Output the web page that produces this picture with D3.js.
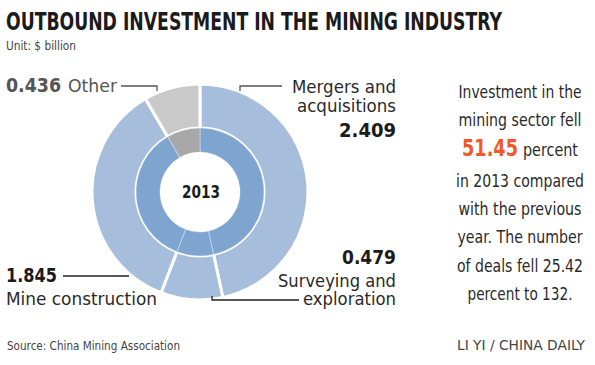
<!DOCTYPE html>
<html><head><meta charset="utf-8">
<script src="https://cdn.jsdelivr.net/npm/d3@7"></script>
<style>
html,body{margin:0;padding:0;background:#fff;}
svg{display:block;}
text{font-family:"Liberation Sans Narrow","DejaVu Sans Condensed","Roboto Condensed","Liberation Sans",sans-serif;}
</style></head>
<body>
<svg id="c" width="595" height="365"></svg>
<script>
const categories = ["Mergers and acquisitions", "Surveying and exploration", "Mine construction", "Other"];
const values = [2.409, 0.479, 1.845, 0.436];
const valueLabels = ["2.409", "0.479", "1.845", "0.436"];
const year = "2013";
const title = "OUTBOUND INVESTMENT IN THE MINING INDUSTRY";
const subtitle = "Unit: $ billion";
const source = "Source: China Mining Association";
const credit = "LI YI / CHINA DAILY";
const noteLines = ["Investment in the", "mining sector fell", "", "in 2013 compared", "with the previous", "year. The number", "of deals fell 25.42", "percent to 132."];
const notePct = "51.45";

const svg = d3.select("#c");
const outerColors = ["#a6bedc", "#a6bedc", "#a6bedc", "#c9c9c9"];
const innerColors = ["#7ea5cf", "#7ea5cf", "#7ea5cf", "#a8a8a8"];

function txt(x, y, s, size, weight, anchor, color, width) {
  const t = svg.append("text").attr("x", x).attr("y", y).text(s)
    .attr("font-size", size).attr("font-weight", weight)
    .attr("text-anchor", anchor).attr("fill", color);
  if (width) t.attr("textLength", width).attr("lengthAdjust", "spacingAndGlyphs");
  return t;
}

// Title
txt(6, 30, title, 24, "bold", "start", "#1b1b1b", 496);
txt(6, 50, subtitle, 13, "normal", "start", "#444", 70);

// Donut
const cx = 200, cy = 192;
const pie = d3.pie().sort(null).value(d => d)(values);
const arcOuter = d3.arc().innerRadius(64).outerRadius(108);
const arcInner = d3.arc().innerRadius(40).outerRadius(64);
const g = svg.append("g").attr("transform", `translate(${cx},${cy})`);
g.selectAll("path.o").data(pie).join("path").attr("class", "o")
  .attr("d", arcOuter).attr("fill", (d, i) => outerColors[i])
  .attr("stroke", "#fff").attr("stroke-width", 3);
g.selectAll("path.i").data(pie).join("path").attr("class", "i")
  .attr("d", arcInner).attr("fill", (d, i) => innerColors[i])
  .attr("stroke", "#fff").attr("stroke-opacity", 0.35).attr("stroke-width", 1);
txt(cx + 1, 198, year, 17, "bold", "middle", "#1b1b1b", 38);

// Leader lines
svg.append("path").attr("d", "M121,86H157V91").attr("fill", "none").attr("stroke", "#555").attr("stroke-width", 1.3);
svg.append("path").attr("d", "M240,91V86H282").attr("fill", "none").attr("stroke", "#555").attr("stroke-width", 1.3);
svg.append("path").attr("d", "M63,276H129").attr("fill", "none").attr("stroke", "#222").attr("stroke-width", 1.6);
svg.append("path").attr("d", "M212,296V300H299").attr("fill", "none").attr("stroke", "#222").attr("stroke-width", 1.3);

// Labels
txt(6, 92, valueLabels[3], 19, "bold", "start", "#555", 55);
txt(68, 92, "Other", 18, "normal", "start", "#555", 49);

txt(396, 93, "Mergers and", 17, "normal", "end", "#2a2a2a", 104);
txt(396, 112, "acquisitions", 17, "normal", "end", "#2a2a2a", 99);
txt(396, 137, valueLabels[0], 19, "bold", "end", "#1b1b1b", 57);

txt(396, 264, valueLabels[1], 19, "bold", "end", "#1b1b1b", 54);
txt(396, 287, "Surveying and", 17, "normal", "end", "#2a2a2a", 118);
txt(396, 305, "exploration", 17, "normal", "end", "#2a2a2a", 93);

txt(6, 282, valueLabels[2], 19, "bold", "start", "#1b1b1b", 51);
txt(6, 305, "Mine construction", 18, "normal", "start", "#2a2a2a", 151);

// Note paragraph
const noteY = [98, 126, 156, 187, 215, 243, 272, 300];
const noteW = [123, 123, 0, 128, 123, 125, 126, 105];
noteLines.forEach((s, i) => {
  if (s) txt(520, noteY[i], s, 17, "normal", "middle", "#2a2a2a", noteW[i]);
});
txt(462, 156, notePct, 23, "bold", "start", "#f05a28", 56);
txt(523, 156, "percent", 17, "normal", "start", "#2a2a2a", 55);

// Footer
txt(7, 350, source, 12, "normal", "start", "#444", 173);
txt(585, 350, credit, 14, "normal", "end", "#444", 128);
</script>
</body></html>
